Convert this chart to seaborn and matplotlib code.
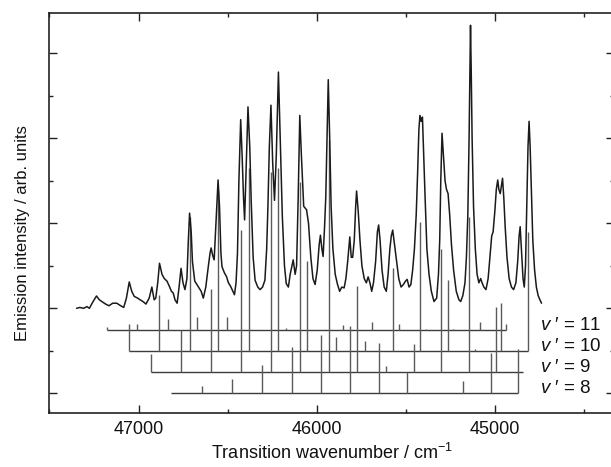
import matplotlib
matplotlib.use("Agg")
import matplotlib.pyplot as plt
import seaborn as sns
import pandas as pd
from matplotlib.ticker import MultipleLocator

# ---------------- data ----------------
spec_w = [47348, 47330, 47308, 47290, 47276, 47255, 47236, 47220, 47206, 47185, 47166, 47145, 47122, 47100,
          47083, 47068, 47052, 47038, 47024, 47005, 46991, 46975, 46958, 46940, 46925, 46912, 46903, 46892,
          46882, 46868, 46855, 46840, 46827, 46815, 46805, 46795, 46783, 46772, 46761, 46750, 46739, 46728,
          46720, 46713, 46704, 46697, 46684, 46663, 46648, 46636, 46622, 46608, 46598, 46592, 46583, 46575,
          46565, 46553, 46545, 46537, 46531, 46518, 46505, 46495, 46483, 46470, 46461, 46452, 46444, 46436,
          46426, 46418, 46410, 46404, 46396, 46385, 46375, 46367, 46356, 46345, 46330, 46317, 46303, 46290,
          46280, 46273, 46265, 46256, 46246, 46236, 46226, 46214, 46204, 46192, 46180, 46170, 46158, 46148,
          46131, 46120, 46112, 46103, 46094, 46085, 46072, 46056, 46045, 46032, 46020, 46008, 45996, 45985,
          45978, 45970, 45963, 45955, 45948, 45941, 45934, 45926, 45918, 45908, 45895, 45882, 45870, 45858,
          45845, 45835, 45825, 45813, 45805, 45797, 45788, 45780, 45775, 45766, 45756, 45745, 45732, 45720,
          45710, 45700, 45690, 45680, 45668, 45658, 45651, 45643, 45632, 45620, 45608, 45598, 45588, 45580,
          45572, 45562, 45550, 45538, 45525, 45512, 45500, 45491, 45480, 45470, 45460, 45450, 45440, 45432,
          45425, 45419, 45412, 45405, 45398, 45390, 45380, 45368, 45355, 45340, 45325, 45315, 45308, 45302,
          45295, 45287, 45278, 45270, 45261, 45252, 45242, 45230, 45215, 45200, 45190, 45178, 45166, 45158,
          45150, 45143, 45138, 45135, 45131, 45126, 45118, 45108, 45098, 45088, 45078, 45070, 45060, 45048,
          45036, 45026, 45016, 45008, 44998, 44990, 44982, 44976, 44968, 44961, 44955, 44948, 44940, 44930,
          44918, 44905, 44893, 44880, 44870, 44862, 44856, 44848, 44840, 44833, 44826, 44819, 44812, 44806,
          44800, 44793, 44785, 44775, 44765, 44755, 44745, 44736]
spec_y = [1.00, 1.01, 1.00, 1.02, 1.00, 1.08, 1.145, 1.10, 1.08, 1.05, 1.03, 1.06, 1.06, 1.03,
          1.01, 1.12, 1.31, 1.20, 1.14, 1.12, 1.10, 1.08, 1.05, 1.12, 1.25, 1.10, 1.12, 1.30,
          1.53, 1.40, 1.35, 1.32, 1.26, 1.20, 1.18, 1.10, 1.06, 1.25, 1.47, 1.30, 1.22, 1.35,
          1.80, 2.12, 1.90, 1.55, 1.32, 1.25, 1.20, 1.12, 1.25, 1.49, 1.65, 1.71, 1.62, 1.57,
          2.00, 2.51, 2.20, 1.65, 1.49, 1.42, 1.37, 1.30, 1.26, 1.20, 1.16, 1.30, 1.65, 2.50,
          3.22, 2.80, 2.30, 2.04, 2.60, 3.37, 2.90, 2.27, 1.60, 1.33, 1.25, 1.22, 1.25, 1.33,
          1.70, 2.20, 2.90, 3.39, 2.70, 2.27, 2.80, 3.78, 3.00, 2.08, 1.50, 1.29, 1.25, 1.40,
          1.57, 1.40, 1.50, 2.30, 3.27, 2.80, 2.20, 2.16, 2.00, 1.60, 1.35, 1.28, 1.45, 1.75,
          1.86, 1.70, 1.61, 1.95, 2.31, 3.00, 3.69, 3.00, 2.20, 1.70, 1.40, 1.28, 1.20, 1.25,
          1.24, 1.35, 1.55, 1.84, 1.60, 1.60, 1.80, 2.20, 2.38, 2.15, 1.80, 1.50, 1.35, 1.30,
          1.37, 1.30, 1.20, 1.30, 1.55, 1.90, 1.98, 1.80, 1.45, 1.25, 1.20, 1.40, 1.70, 1.85,
          1.92, 1.75, 1.55, 1.35, 1.25, 1.28, 1.32, 1.34, 1.25, 1.28, 1.45, 1.70, 2.10, 2.60,
          3.10, 3.27, 3.20, 3.25, 2.80, 2.30, 1.70, 1.40, 1.20, 1.08, 1.12, 1.40, 1.80, 2.50,
          3.06, 2.80, 2.50, 2.40, 2.35, 2.10, 1.75, 1.45, 1.20, 1.10, 1.08, 1.15, 1.30, 1.60,
          2.10, 3.00, 3.90, 4.33, 3.80, 3.00, 2.20, 1.70, 1.40, 1.30, 1.35, 1.30, 1.25, 1.22,
          1.35, 1.60, 1.85, 1.90, 2.15, 2.40, 2.51, 2.40, 2.35, 2.45, 2.53, 2.30, 1.95, 1.60,
          1.35, 1.25, 1.22, 1.30, 1.55, 1.85, 1.96, 1.65, 1.35, 1.25, 1.50, 2.20, 2.90, 3.20,
          2.90, 2.40, 1.80, 1.45, 1.25, 1.15, 1.10, 1.06]

# vibrational progressions (stick positions / relative intensities)
levels = ["11", "10", "9", "8"]
offsets = [0.75, 0.5, 0.25, 0.0]

v11_pos = [47176, 47006, 46834, 46670, 46502, 46172, 45851, 45691, 45538, 45386, 45234, 45083, 44933]
v11_int = [0.03, 0.07, 0.12, 0.145, 0.145, 0.015, 0.05, 0.09, 0.07, 0.01, 0.01, 0.085, 0.06]

v10_pos = [47054, 46884, 46712, 46553, 46380, 46216, 46051, 45893, 45730, 45571, 45416, 45261, 45107,
           44961, 44811]
v10_int = [0.32, 0.66, 1.58, 1.89, 2.15, 2.15, 1.06, 0.165, 0.12, 0.97, 1.52, 0.83, 0.02, 0.56, 1.40]

v9_pos = [46932, 46764, 46594, 46425, 46257, 46094, 45931, 45770, 45611, 45452, 45298, 45143, 44989, 44839]
v9_int = [0.21, 0.49, 0.98, 1.67, 2.35, 2.24, 2.73, 1.01, 0.07, 0.33, 1.45, 1.83, 0.77, 0.0]

v8_pos = [46815, 46643, 46474, 46306, 46140, 45976, 45813, 45650, 45489, 45333, 45176, 45021, 44867]
v8_int = [0.0, 0.08, 0.165, 0.33, 0.55, 0.69, 0.79, 0.59, 0.25, 0.0, 0.145, 0.48, 0.52]

progressions = [(v11_pos, v11_int), (v10_pos, v10_int), (v9_pos, v9_int), (v8_pos, v8_int)]

# ---------------- style ----------------
sns.set_theme(style="ticks")
plt.rcParams["font.family"] = ["Liberation Sans", "DejaVu Sans"]
plt.rcParams["mathtext.fontset"] = "custom"
plt.rcParams["mathtext.rm"] = "Liberation Sans"
plt.rcParams["mathtext.it"] = "Liberation Sans:italic"
plt.rcParams["mathtext.bf"] = "Liberation Sans:bold"

fig = plt.figure(figsize=(6.11, 4.67), dpi=100)
ax = fig.add_axes([0.081, 0.1156, 0.9236, 0.8559])

# sticks
for (pos, inten), off in zip(progressions, offsets):
    ax.hlines(off, min(pos), max(pos), color="#3c3c3c", lw=1.0, zorder=2)
    ax.vlines(pos, off, [off + v for v in inten], color="#5a5a5a", lw=1.0, zorder=2)

# spectrum
df = pd.DataFrame({"w": spec_w, "I": spec_y})
sns.lineplot(data=df, x="w", y="I", sort=False, estimator=None, color="#1a1a1a", lw=1.1, ax=ax, zorder=3)

# labels of progressions
for lev, off in zip(levels, offsets):
    ax.text(44742, off, r"$v$ " + "\u2032 = " + lev, fontsize=13.5, ha="left", va="baseline",
            color="#111111")

ax.set_xlim(47500, 44330)
ax.set_ylim(-0.232, 4.471)
ax.xaxis.set_major_locator(MultipleLocator(1000))
ax.xaxis.set_minor_locator(MultipleLocator(500))
ax.yaxis.set_major_locator(MultipleLocator(1))
ax.yaxis.set_minor_locator(MultipleLocator(0.5))
ax.tick_params(which="both", direction="in", top=True, right=True, width=1.0, color="#222222",
               labelleft=False)
ax.tick_params(which="major", length=6)
ax.tick_params(which="minor", length=3)
ax.tick_params(axis="x", labelsize=13, pad=5.5, labelcolor="#111111")
for s in ax.spines.values():
    s.set_linewidth(1.2)
    s.set_color("#222222")

ax.set_xlabel(r"Transition wavenumber / cm$^{-1}$", fontsize=13, labelpad=4, color="#111111")
ax.set_ylabel("Emission intensity / arb. units", fontsize=12, color="#111111")
ax.yaxis.set_label_coords(-0.035, 0.45)

fig.savefig("out.png", dpi=100)
